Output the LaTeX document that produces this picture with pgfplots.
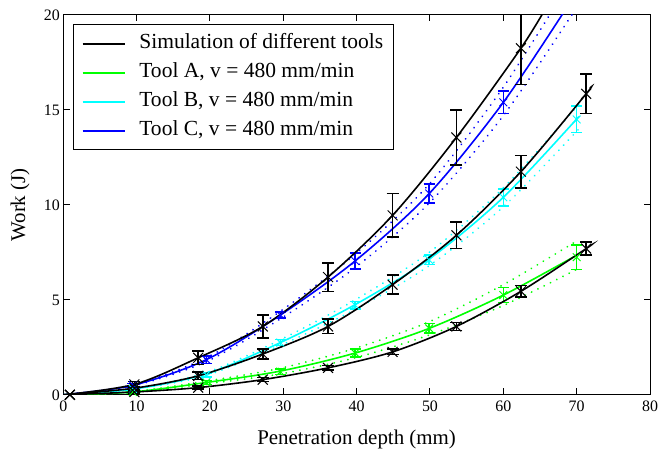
\documentclass[border=0pt]{standalone}
\usepackage{fontspec}
\setmainfont{Liberation Serif}
\usepackage{pgfplots}
\usepackage{pgfplotstable}
\pgfplotsset{compat=1.18}
\definecolor{cA}{RGB}{0,255,0}
\definecolor{cB}{RGB}{0,255,255}
\definecolor{cC}{RGB}{0,0,255}

% simulation markers (x, y, error)
\pgfplotstableread{
x y e
0.9 0 0.03
9.7 0.55 0.15
18.4 1.95 0.35
27.2 3.6 0.6
36.1 6.2 0.75
44.9 9.45 1.15
53.6 13.55 1.45
62.4 18.25 1.9
}\simC
\pgfplotstableread{
x y e
0.9 0 0.03
9.7 0.35 0.1
18.4 1.0 0.2
27.2 2.15 0.27
36.1 3.6 0.38
44.9 5.8 0.5
53.6 8.4 0.7
62.4 11.75 0.85
71.3 15.85 1.05
}\simB
\pgfplotstableread{
x y e
0.9 0 0.03
9.7 0.15 0.05
18.4 0.38 0.08
27.2 0.8 0.1
36.1 1.42 0.12
44.9 2.26 0.15
53.6 3.6 0.2
62.4 5.45 0.3
71.3 7.7 0.35
}\simA
% simulation curves
\pgfplotstableread{
x y
0 0
9.7 0.55
18.4 1.95
27.2 3.6
36.1 6.2
44.9 9.45
53.6 13.55
62.4 18.25
66.0 20.5
}\simClin
\pgfplotstableread{
x y
0 0
9.7 0.35
18.4 1.0
27.2 2.15
36.1 3.6
44.9 5.8
53.6 8.4
62.4 11.75
71.3 15.85
71.8 16.15
}\simBlin
\pgfplotstableread{
x y
0 0
9.7 0.15
18.4 0.38
27.2 0.8
36.1 1.42
44.9 2.26
53.6 3.6
62.4 5.45
71.3 7.7
71.8 7.85
}\simAlin
% experiments: markers
\pgfplotstableread{
x y e
9.5 0.15 0.05
19.5 0.65 0.1
29.6 1.22 0.15
39.8 2.2 0.2
49.9 3.5 0.25
60.0 5.25 0.4
70.0 7.25 0.65
}\expA
\pgfplotstableread{
x y e
9.5 0.3 0.08
19.5 1.05 0.1
29.6 2.75 0.15
39.8 4.72 0.2
49.9 7.1 0.25
60.0 10.4 0.45
70.0 14.5 0.7
}\expB
\pgfplotstableread{
x y e
9.5 0.5 0.1
19.5 1.85 0.2
29.6 4.2 0.15
39.8 7.05 0.42
49.9 10.6 0.5
60.0 15.4 0.6
}\expC
% experiments: mean and bounds
\pgfplotstableread{
x y u l
0 0 0 0
9.5 0.15 0.17 0.13
19.5 0.65 0.72 0.58
29.6 1.25 1.4 1.1
39.8 2.2 2.45 1.95
49.9 3.5 3.85 3.15
60.0 5.25 5.8 4.7
70.0 7.35 8.1 6.6
}\fitA
\pgfplotstableread{
x y u l
0 0 0 0
9.5 0.3 0.32 0.28
19.5 1.1 1.17 1.03
29.6 2.75 2.9 2.6
39.8 4.75 5.0 4.5
49.9 7.15 7.5 6.8
60.0 10.4 10.9 9.9
70.3 14.65 15.3 14.0
}\fitB
\pgfplotstableread{
x y u l
0 0 0 0
9.5 0.5 0.53 0.47
19.5 1.85 1.95 1.75
29.6 4.2 4.4 4.0
39.8 7.05 7.4 6.7
49.9 10.6 11.1 10.1
60.0 15.4 16.2 14.7
69.5 20.9 22.0 20.1
}\fitC

\pgfplotsset{
  dotline/.style={forget plot, smooth, line width=2bp, dash pattern=on 0.01bp off 7bp, line cap=round},
  expmark/.style={forget plot, only marks, #1, mark=x, mark size=5.5bp,
    mark options={line width=1bp, #1},
    error bars/y dir=both, error bars/y explicit,
    error bars/error bar style={line width=1.5bp, #1},
    error bars/error mark options={rotate=90, mark size=5.5bp, line width=1.5bp, #1}},
  simmark/.style={forget plot, only marks, black, mark=x, mark size=7bp,
    mark options={line width=1bp, black},
    error bars/y dir=both, error bars/y explicit,
    error bars/error bar style={line width=1.5bp, black},
    error bars/error mark options={rotate=90, mark size=6bp, line width=1.5bp, black}},
}

\begin{document}
\begin{tikzpicture}
\begin{axis}[
  scale only axis, width=587bp, height=380bp,
  xmin=0, xmax=80, ymin=0, ymax=20,
  xtick={0,10,...,80}, ytick={0,5,...,20},
  tick align=inside, major tick length=6.5bp,
  xlabel={Penetration depth (mm)}, ylabel={Work (J)},
  tick label style={font=\fontsize{16}{19}\selectfont},
  x tick label style={yshift=-3bp, inner xsep=0bp},
  label style={font=\fontsize{21}{25}\selectfont, inner sep=0bp},
  x label style={at={(axis description cs:0.5,-0.1316)}, anchor=base},
  y label style={at={(axis description cs:-0.0652,0.5)}, anchor=base, rotate=0},
  /pgf/number format/assume math mode=true,
  axis line style={line width=1bp},
  tick style={black, line width=1bp},
  legend cell align=left,
  legend style={at={(0.01704,0.9755)}, anchor=north west, draw=black, line width=1bp,
    font=\fontsize{21.6}{25}\selectfont, row sep=5bp, inner xsep=8bp, inner ysep=7bp,
    nodes={inner xsep=2bp, inner ysep=2bp, text height=15bp, text depth=5bp}},
  /tikz/every odd column/.append style={column sep=12bp},
  legend image code/.code={\draw[#1, line width=1.6bp] (0bp,0bp) -- (42bp,0bp);},
]
\addlegendimage{black}
\addlegendentry{Simulation of different tools}
\addlegendimage{cA}
\addlegendentry{Tool A, v = 480 mm/min}
\addlegendimage{cB}
\addlegendentry{Tool B, v = 480 mm/min}
\addlegendimage{cC}
\addlegendentry{Tool C, v = 480 mm/min}

% experimental bounds (dotted)
\addplot[dotline, cA] table[x=x,y=u] {\fitA};
\addplot[dotline, cA] table[x=x,y=l] {\fitA};
\addplot[dotline, cB] table[x=x,y=u] {\fitB};
\addplot[dotline, cB] table[x=x,y=l] {\fitB};
\addplot[dotline, cC] table[x=x,y=u] {\fitC};
\addplot[dotline, cC] table[x=x,y=l] {\fitC};
% experimental mean lines
\addplot[forget plot, smooth, cA, line width=1.6bp] table[x=x,y=y] {\fitA};
\addplot[forget plot, smooth, cB, line width=1.6bp] table[x=x,y=y] {\fitB};
\addplot[forget plot, smooth, cC, line width=1.6bp] table[x=x,y=y] {\fitC};
% experimental markers
\addplot[expmark=cA] table[x=x,y=y,y error=e] {\expA};
\addplot[expmark=cB] table[x=x,y=y,y error=e] {\expB};
\addplot[expmark=cC] table[x=x,y=y,y error=e] {\expC};
% simulation lines
\addplot[forget plot, smooth, black, line width=1.6bp] table[x=x,y=y] {\simAlin};
\addplot[forget plot, smooth, black, line width=1.6bp] table[x=x,y=y] {\simBlin};
\addplot[forget plot, smooth, black, line width=1.6bp] table[x=x,y=y] {\simClin};
% simulation markers
\addplot[simmark] table[x=x,y=y,y error=e] {\simA};
\addplot[simmark] table[x=x,y=y,y error=e] {\simB};
\addplot[simmark] table[x=x,y=y,y error=e] {\simC};
\end{axis}
\path ([xshift=-63.3bp,yshift=-58bp]current axis.south west) rectangle ([xshift=9bp,yshift=15bp]current axis.north east);
\end{tikzpicture}
\end{document}
